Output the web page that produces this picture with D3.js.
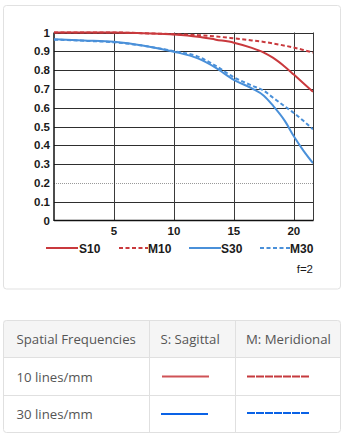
<!DOCTYPE html>
<html><head><meta charset="utf-8">
<script src="https://cdn.jsdelivr.net/npm/d3@7"></script>
<style>
html,body{margin:0;padding:0;background:#fff;}
svg{display:block;}
</style></head>
<body>
<svg id="c" width="346" height="438"></svg>
<script>
// Data
const xs   = [0, 2.5, 5, 7.5, 10, 12, 13.5, 15, 16.5, 17.5, 18.25, 19.25, 20, 20.8, 21.6];
const s10  = [1.0, 1.0, 1.0, 0.996, 0.99, 0.978, 0.962, 0.946, 0.918, 0.893, 0.866, 0.818, 0.776, 0.73, 0.685];
const m10  = [1.0, 1.0, 1.0, 0.996, 0.991, 0.986, 0.979, 0.969, 0.958, 0.95, 0.942, 0.93, 0.92, 0.907, 0.893];
const s30  = [0.964, 0.958, 0.951, 0.93, 0.898, 0.862, 0.812, 0.748, 0.703, 0.664, 0.612, 0.53, 0.448, 0.372, 0.305];
const m30  = [0.962, 0.956, 0.948, 0.929, 0.9, 0.872, 0.822, 0.762, 0.718, 0.69, 0.654, 0.607, 0.572, 0.53, 0.485];
const xTicks = [5, 10, 15, 20];
const yTicks = [0, 0.1, 0.2, 0.3, 0.4, 0.5, 0.6, 0.7, 0.8, 0.9, 1];
const legendLabels = ["S10", "M10", "S30", "M30"];
const tableHeader = ["Spatial Frequencies", "S: Sagittal", "M: Meridional"];
const tableRows = ["10 lines/mm", "30 lines/mm"];

const RED = "#c9393d", BLUE = "#4a90d9";
const TRED = "#cf5256", TRED2 = "#c63a3e", TBLUE = "#0a62e6";

const svg = d3.select("#c");

// card
svg.append("rect").attr("x",3.5).attr("y",5.5).attr("width",337).attr("height",283.5)
  .attr("rx",3).attr("fill","#fff").attr("stroke","#e1e1e1");

const x = d3.scaleLinear().domain([0, 21.6]).range([54, 313]);
const y = d3.scaleLinear().domain([0, 1]).range([220.5, 32.5]);

const g = svg.append("g");
// horizontal grid
yTicks.forEach(t => {
  if (t === 0) return;
  g.append("line").attr("x1",x(0)).attr("x2",x(21.6)).attr("y1",Math.round(y(t))+0.5).attr("y2",Math.round(y(t))+0.5)
    .attr("stroke", t===0.2 ? "#999" : "#2e2e2e").attr("stroke-width",1)
    .attr("stroke-dasharray", t===0.2 ? "1,1" : null);
});
// vertical grid
xTicks.concat([21.6]).forEach(t => {
  g.append("line").attr("x1",Math.round(x(t))+0.5).attr("x2",Math.round(x(t))+0.5).attr("y1",y(1)).attr("y2",y(0))
    .attr("stroke","#3a3a3a").attr("stroke-width",1);
});
// axes lines
g.append("line").attr("x1",x(0)).attr("x2",x(0)).attr("y1",y(1)).attr("y2",y(0)+0.5).attr("stroke","#111").attr("stroke-width",1.5);
g.append("line").attr("x1",x(0)).attr("x2",x(21.6)+0.5).attr("y1",y(0)).attr("y2",y(0)).attr("stroke","#111").attr("stroke-width",1.5);

// tick labels
const font = "'Liberation Sans', Arial, sans-serif";
yTicks.forEach(t => {
  g.append("text").attr("x",x(0)-4).attr("y",y(t)+4).attr("text-anchor","end")
    .attr("font-family",font).attr("font-weight","bold").attr("font-size","11.5px").attr("fill","#1a1a1a")
    .text(t===0||t===1 ? String(t) : t.toFixed(1));
});
xTicks.forEach(t => {
  g.append("text").attr("x",x(t)).attr("y",235).attr("text-anchor","middle")
    .attr("font-family",font).attr("font-weight","bold").attr("font-size","11.5px").attr("fill","#1a1a1a")
    .text(t);
});

// curves
const line = d3.line().x((d,i)=>x(xs[i])).y(d=>y(d)).curve(d3.curveMonotoneX);
const series = [
  {v:s10, c:RED, dash:null},
  {v:m10, c:RED, dash:"4,2.5"},
  {v:s30, c:BLUE, dash:null},
  {v:m30, c:BLUE, dash:"4,2.5"}
];
const clip = svg.append("clipPath").attr("id","cp").append("rect")
  .attr("x",x(0)).attr("y",y(1)-3).attr("width",x(21.6)-x(0)).attr("height",y(0)-y(1)+3);
series.slice().reverse().forEach(s => {
  g.append("path").attr("d",line(s.v)).attr("fill","none").attr("stroke",s.c)
    .attr("stroke-width",2).attr("stroke-dasharray",s.dash).attr("clip-path","url(#cp)");
});

// legend
const leg = [
  {x1:46, x2:78, tx:79},
  {x1:119, x2:148, tx:148},
  {x1:189, x2:221, tx:221},
  {x1:260, x2:290, tx:290}
];
legendLabels.forEach((l,i) => {
  const s = series[i], p = leg[i];
  g.append("line").attr("x1",p.x1).attr("x2",p.x2).attr("y1",248).attr("y2",248)
    .attr("stroke",s.c).attr("stroke-width",2).attr("stroke-dasharray", s.dash ? "4,2.5" : null);
  g.append("text").attr("x",p.tx).attr("y",252.5).attr("font-family",font).attr("font-weight","bold")
    .attr("font-size","12px").attr("fill","#1a1a1a").text(l);
});
g.append("text").attr("x",313).attr("y",273).attr("text-anchor","end").attr("font-family",font)
  .attr("font-size","11.5px").attr("fill","#1a1a1a").text("f=2");

// table
const tf = "'Open Sans', 'Noto Sans', sans-serif";
const tb = svg.append("g");
const tx0 = 3.5, tx1 = 340.5, colX = [3.5, 149.5, 235.5, 340.5], rowY = [320.5, 357.5, 395.5, 432.5];
tb.append("rect").attr("x",tx0).attr("y",rowY[0]).attr("width",tx1-tx0).attr("height",rowY[1]-rowY[0]).attr("fill","#f5f5f5");
tb.append("rect").attr("x",tx0).attr("y",rowY[0]).attr("width",tx1-tx0).attr("height",rowY[3]-rowY[0])
  .attr("rx",3).attr("fill","none").attr("stroke","#e0e0e0");
[rowY[1], rowY[2]].forEach(yy => tb.append("line").attr("x1",tx0).attr("x2",tx1).attr("y1",yy).attr("y2",yy).attr("stroke","#e0e0e0"));
[colX[1], colX[2]].forEach(xx => tb.append("line").attr("x1",xx).attr("x2",xx).attr("y1",rowY[0]).attr("y2",rowY[3]).attr("stroke","#e0e0e0"));
const hx = [16.5, 160.5, 246];
tableHeader.forEach((h,i) => {
  tb.append("text").attr("x",hx[i]).attr("y",343.5).attr("font-family",tf).attr("font-size","13.2px").attr("fill","#555").text(h);
});
tableRows.forEach((r,i) => {
  const cy = [376.5, 414][i];
  tb.append("text").attr("x",16.5).attr("y",cy+5).attr("font-family",tf).attr("font-size","13.2px").attr("fill","#555").text(r);
  const c1 = i===0 ? TRED : TBLUE, c2 = i===0 ? TRED2 : TBLUE;
  tb.append("line").attr("x1",i===0?162:161).attr("x2",i===0?209:208).attr("y1",cy).attr("y2",cy).attr("stroke",c1).attr("stroke-width",2);
  tb.append("line").attr("x1",247).attr("x2",309).attr("y1",cy-(i===0?0:1)).attr("y2",cy-(i===0?0:1)).attr("stroke",c2).attr("stroke-width",2).attr("stroke-dasharray","8,1");
});
</script>
</body></html>
